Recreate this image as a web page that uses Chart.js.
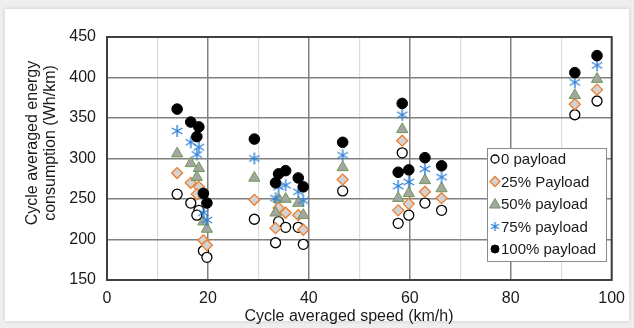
<!DOCTYPE html>
<html>
<head>
<meta charset="utf-8">
<script src="https://cdn.jsdelivr.net/npm/chart.js@4/dist/chart.umd.min.js"></script>
<style>
  body { margin: 0; background: #eeeeee; }
  #card { position: absolute; left: 5px; top: 9px; width: 624px; height: 312px; background: #fff; box-shadow: 0 0 4px rgba(0,0,0,0.15); }
  #wrap { position: absolute; left: 0; top: 0; width: 634px; height: 328px; }
</style>
</head>
<body>
<div id="card"></div>
<div id="wrap"><canvas id="chart" width="634" height="328"></canvas></div>
<script>
// 주행 사이클별 평균 속도 (km/h)
const speeds = [13.9, 16.6, 18.2, 17.8, 19.1, 19.8, 29.2, 33.4, 34.0, 35.4, 37.9, 38.9, 46.7, 57.7, 58.5, 59.8, 63.0, 66.3, 92.7, 97.1];
// 적재량별 에너지 소비 (Wh/km)
const payload0   = [256, 245, 236, 230, 186, 178, 225, 196, 222, 215, 215, 194, 260, 220, 307, 230, 245, 236, 354, 371];
const payload25  = [282, 270, 265, 256, 199, 193, 249, 214, 239, 233, 230, 212, 274, 236, 322, 244, 259, 251, 367, 385];
const payload50  = [306, 294, 288, 277, 222, 213, 276, 233, 250, 250, 245, 230, 289, 251, 336, 257, 273, 263, 378, 398];
const payload75  = [334, 320, 314, 305, 233, 224, 300, 251, 265, 267, 259, 248, 304, 266, 354, 271, 287, 277, 394, 415];
const payload100 = [361, 345, 339, 327, 257, 245, 324, 270, 281, 285, 276, 265, 320, 283, 368, 286, 301, 291, 406, 427];
const seriesLabels = ["0 payload", "25% Payload", "50% payload", "75% payload", "100% payload"];
const xTicks = [0, 20, 40, 60, 80, 100];
const xTitle = "Cycle averaged speed (km/h)";
const yTitle = ["Cycle averaged energy", "consumption (Wh/km)"];

const FONT = "'Liberation Sans', Arial, sans-serif";
const BLUE = "#2f80d6";
const TEXT = "#1a1a1a";

// 별표(*) 마커 캔버스 생성
function makeAsterisk(size) {
  const c = document.createElement("canvas");
  c.width = size; c.height = size;
  const g = c.getContext("2d");
  const m = size / 2, r = size / 2 - 1;
  g.strokeStyle = BLUE;
  g.lineWidth = 1.4;
  [90, 30, 150].forEach((deg) => {
    const a = deg * Math.PI / 180;
    g.beginPath();
    g.moveTo(m - Math.cos(a) * r, m - Math.sin(a) * r);
    g.lineTo(m + Math.cos(a) * r, m + Math.sin(a) * r);
    g.stroke();
  });
  return c;
}
const asterisk = makeAsterisk(14);
const asteriskSmall = makeAsterisk(11);

function toPoints(vals) {
  return vals.map((v, i) => ({ x: speeds[i], y: v }));
}

const styles = [
  { pointStyle: "circle", radius: 5, bg: "#ffffff", border: "#000000", bw: 1.3 },
  { pointStyle: "rectRot", radius: 5.5, bg: "#d3d3d3", border: "#ed7d31", bw: 1.3 },
  { pointStyle: "triangle", radius: 6.5, bg: "#a5a5a5", border: "#6f9a4e", bw: 1 },
  { pointStyle: asterisk, radius: 7, bg: BLUE, border: BLUE, bw: 1 },
  { pointStyle: "circle", radius: 5.3, bg: "#000000", border: "#000000", bw: 1 },
];
const allSeries = [payload0, payload25, payload50, payload75, payload100];

const datasets = allSeries.map((vals, i) => ({
  label: seriesLabels[i],
  data: toPoints(vals),
  pointStyle: styles[i].pointStyle,
  pointRadius: styles[i].radius,
  pointHoverRadius: styles[i].radius,
  backgroundColor: styles[i].bg,
  borderColor: styles[i].border,
  pointBorderWidth: styles[i].bw,
  order: 4 - i, // 100% 가 맨 위에 그려지도록
}));

// 플롯 영역 테두리
const frame = {
  id: "frame",
  beforeDatasetsDraw(chart) {
    const { ctx, chartArea: a } = chart;
    ctx.save();
    ctx.strokeStyle = "#404040";
    ctx.lineWidth = 2;
    ctx.strokeRect(a.left, a.top, a.right - a.left, a.bottom - a.top);
    ctx.restore();
  },
};

// 축 제목 (원본처럼 살짝 치우친 위치)
const axisTitles = {
  id: "axisTitles",
  afterDraw(chart) {
    const ctx = chart.ctx;
    ctx.save();
    ctx.fillStyle = TEXT;
    ctx.font = "16px " + FONT;
    ctx.textAlign = "center";
    ctx.textBaseline = "middle";
    ctx.fillText(xTitle, 349, 317);
    ctx.translate(0, 143);
    ctx.rotate(-Math.PI / 2);
    ctx.fillText(yTitle[0], 0, 33);
    ctx.fillText(yTitle[1], 0, 51);
    ctx.restore();
  },
};

// 차트 내부 범례
const innerLegend = {
  id: "innerLegend",
  afterDraw(chart) {
    const ctx = chart.ctx;
    const x0 = 487, y0 = 148, w = 119, h = 113;
    ctx.save();
    ctx.fillStyle = "#fff";
    ctx.fillRect(x0, y0, w, h);
    ctx.strokeStyle = "#8c8c8c";
    ctx.lineWidth = 1;
    ctx.strokeRect(x0 + 0.5, y0 + 0.5, w, h);
    ctx.font = "15px " + FONT;
    ctx.textBaseline = "middle";
    seriesLabels.forEach((label, i) => {
      const y = y0 + 11 + i * 22.5;
      const mx = x0 + 8;
      const s = styles[i];
      ctx.fillStyle = s.bg;
      ctx.strokeStyle = s.border;
      ctx.lineWidth = s.bw;
      ctx.beginPath();
      if (i === 0 || i === 4) {
        ctx.arc(mx, y, 4, 0, Math.PI * 2);
      } else if (i === 1) {
        ctx.moveTo(mx, y - 5); ctx.lineTo(mx + 5, y); ctx.lineTo(mx, y + 5); ctx.lineTo(mx - 5, y); ctx.closePath();
      } else if (i === 2) {
        ctx.moveTo(mx, y - 5.5); ctx.lineTo(mx + 5.5, y + 4); ctx.lineTo(mx - 5.5, y + 4); ctx.closePath();
      }
      if (i === 3) {
        ctx.drawImage(asteriskSmall, mx - 5.5, y - 5.5);
      } else {
        ctx.fill();
        ctx.stroke();
      }
      ctx.fillStyle = TEXT;
      ctx.fillText(label, mx + 6, y + 1);
    });
    ctx.restore();
  },
};

new Chart(document.getElementById("chart"), {
  type: "scatter",
  data: { datasets: datasets },
  plugins: [frame, axisTitles, innerLegend],
  options: {
    responsive: false,
    animation: false,
    layout: { padding: { left: 22, right: 15, top: 37, bottom: 0 } },
    plugins: { legend: { display: false }, tooltip: { enabled: false } },
    scales: {
      x: {
        type: "linear",
        min: 0,
        max: 100,
        afterFit(scale) { scale.height = 48; },
        afterBuildTicks(scale) {
          scale.ticks = [];
          for (let v = 0; v <= 100; v += 10) scale.ticks.push({ value: v });
        },
        ticks: {
          autoSkip: false,
          maxRotation: 0,
          padding: 9,
          color: TEXT,
          font: { family: FONT, size: 16 },
          callback: (v) => (xTicks.includes(v) ? String(v) : ""),
        },
        grid: {
          drawTicks: false,
          color: (c) => (c.tick && c.tick.value % 20 === 0 ? "#808080" : "#dcdcdc"),
          lineWidth: (c) => (c.tick && c.tick.value % 20 === 0 ? 1.5 : 1.2),
        },
        border: { display: false },
      },
      y: {
        min: 150,
        max: 450,
        afterFit(scale) { scale.width = 107 - 22; },
        ticks: {
          stepSize: 50,
          padding: 11,
          color: TEXT,
          font: { family: FONT, size: 16 },
        },
        grid: { drawTicks: false, color: "#808080", lineWidth: 1.5 },
        border: { display: false },
      },
    },
  },
});
</script>
</body>
</html>
